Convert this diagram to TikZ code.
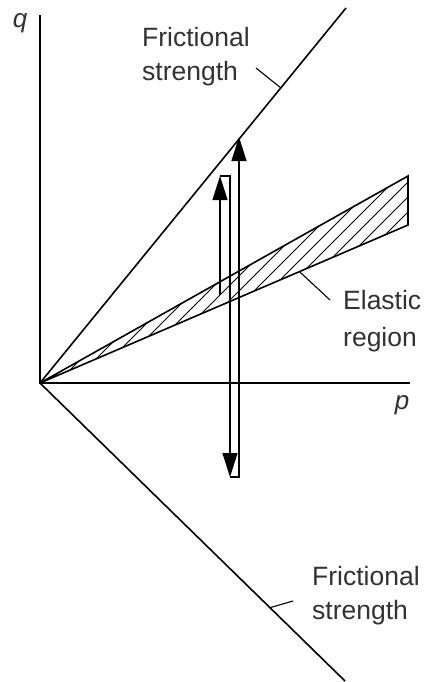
\documentclass[tikz,border=0pt]{standalone}
\usepackage{fontspec}
\setmainfont{Liberation Sans}
\usepackage{tikz}
\usetikzlibrary{calc, arrows.meta}
\definecolor{labelc}{RGB}{50,50,50}

\begin{document}
\begin{tikzpicture}[x=1pt, y=-1pt, line join=miter,
  % lines and labels
  axisline/.style={line width=1.7pt},
  boundline/.style={line width=1.6pt},
  hatchline/.style={line width=0.9pt},
  leader/.style={line width=1.1pt},
  loadpath/.style={line width=1.2pt, -{Triangle[length=24pt, width=15pt]}},
  lbl/.style={anchor=north west, inner sep=0pt, align=left, text=labelc,
              font=\fontsize{26.5}{34}\selectfont},
  axlbl/.style={inner sep=0pt, text=labelc, font=\fontsize{26}{30}\selectfont\itshape},
]
\useasboundingbox (0,0) rectangle (426,682);

%% ── axes ─────────────────────────────────────────────────────────
\coordinate (O) at (40,383);
\coordinate (qtop) at (40,15);
\coordinate (pend) at (410,383);
\draw[axisline] (qtop) -- (O) -- (pend);
\node[axlbl] (qlab) at (20,23) {q};
\node[axlbl] (plab) at (402,405) {p};

%% ── frictional strength envelopes ───────────────────────────────
\coordinate (fup) at (346,8);
\coordinate (fdown) at (345,681);
\draw[boundline] (O) -- (fup);
\draw[boundline] (O) -- (fdown);

%% ── elastic region : hatched wedge ──────────────────────────────
\coordinate (eup) at (408,176);
\coordinate (elow) at (408,225);
\begin{scope}
  \clip (O) -- (eup) -- (elow) -- cycle;
  \foreach \c in {42,57,...,642}
    \draw[hatchline] (\c-150,533) -- (\c+300,83);
\end{scope}
\draw[boundline] (O) -- (eup) -- (elow) -- cycle;

%% ── loading / unloading / reloading path ────────────────────────
\coordinate (a0) at (220,295);
\coordinate (a1) at (220,176);
\coordinate (b0) at (230,176);
\coordinate (b1) at (230,477);
\coordinate (c0) at (239,477);
\coordinate (c1) at (239,137);
\draw[loadpath] (a0) -- (a1);
\draw[loadpath] (a1) -- (b0) -- (b1);
\draw[loadpath] (b1) -- (c0) -- (c1);

%% ── labels and leaders ──────────────────────────────────────────
\node[lbl] (ftop) at (142,27) {Frictional\\strength};
\node[lbl, font=\fontsize{26.5}{37}\selectfont] (elab) at (343,290) {Elastic\\region};
\node[lbl] (fbot) at (312,566) {Frictional\\strength};

\coordinate (ftopon) at ($(O)!0.787!(fup)$);
\coordinate (ftopend) at (256,68);
\draw[leader] (ftopend) -- (ftopon);

\coordinate (elabon) at ($(O)!0.705!(elow)$);
\coordinate (elabend) at (330,300);
\draw[leader] (elabon) -- (elabend);

\coordinate (fboton) at ($(O)!0.754!(fdown)$);
\coordinate (fbotend) at (293,601);
\draw[leader] (fboton) -- (fbotend);

\end{tikzpicture}
\end{document}
